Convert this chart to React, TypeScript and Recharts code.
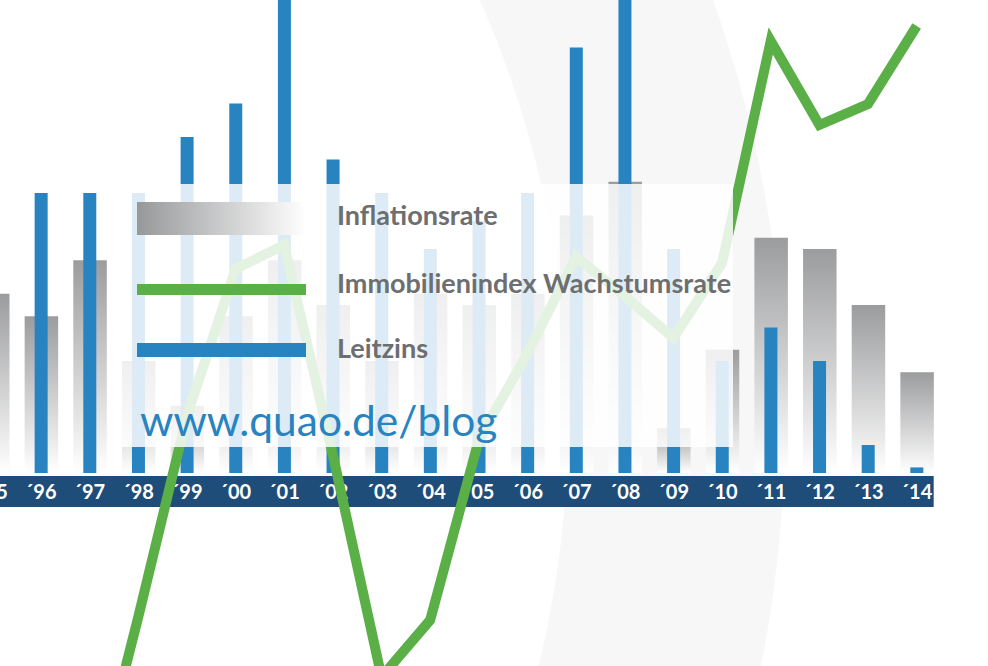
import React from 'react';
import { ComposedChart, Bar, Line, XAxis, YAxis } from 'recharts';

// ---- data ----
const years = ['´95', '´96', '´97', '´98', '´99', '´00', '´01', '´02', '´03', '´04', '´05', '´06', '´07', '´08', '´09', '´10', '´11', '´12', '´13', '´14'];
const inflationsrate = [1.6, 1.4, 1.9, 1.0, 0.6, 1.4, 1.9, 1.5, 1.0, 1.6, 1.5, 1.6, 2.3, 2.6, 0.4, 1.1, 2.1, 2.0, 1.5, 0.9];
const leitzins = [3.0, 2.5, 2.5, 2.5, 3.0, 3.3, 4.5, 2.8, 2.5, 2.0, 2.25, 2.5, 3.8, 4.5, 2.0, 1.0, 1.3, 1.0, 0.25, 0.05];
const immoWachstum = [-4.0, -4.6, -5.6, -2.4, 0.95, 3.4, 3.8, 0.3, -3.4, -2.45, 0.55, 2.0, 3.6, 2.95, 2.25, 3.5, 7.2, 5.8, 6.15, 7.45];

const legendLabels = ['Inflationsrate', 'Immobilienindex Wachstumsrate', 'Leitzins'];
const urlText = 'www.quao.de/blog';

const barData = years.map((y, i) => ({ year: y, inflation: inflationsrate[i], leitzins: leitzins[i] }));
const lineData = years.map((y, i) => ({ year: y, immo: immoWachstum[i] }));

// ---- layout ----
const CHART_LEFT = -31.8;
const CHART_W = 973;
const BAND_W = CHART_W / years.length;
const BAR_PLOT_H = 473;
const BAR_CHART_H = 666;
const BAR_UNIT_PX = 112;
const LINE_CHART_H = 850;
const LINE_UNIT_PX = 60;
const lineHi = BAR_PLOT_H / LINE_UNIT_PX;
const lineLo = lineHi - LINE_CHART_H / LINE_UNIT_PX;

const BLUE = '#2883c1';
const GREEN = '#5baf47';
const NAVY = '#1f4d79';
const TEXT_GRAY = '#6d6e70';

const BandTick = (props: any) => {
  const { x, y, payload, index } = props;
  const half = BAND_W / 2;
  const isLast = index === years.length - 1;
  const left = x - half - 0.5;
  const right = isLast ? x + 17 : x + half + 0.5;
  return (
    <g>
      <rect x={left} y={y + 3} width={right - left} height={31} fill={NAVY} />
      <text
        x={x}
        y={y + 26}
        textAnchor="middle"
        fill="#ffffff"
        fontFamily="Lato, 'Open Sans', sans-serif"
        fontWeight={700}
        fontSize={20}
      >
        {payload.value}
      </text>
    </g>
  );
};

export default function App() {
  return (
    <div
      style={{
        position: 'absolute',
        left: 0,
        top: 0,
        width: 988,
        height: 666,
        overflow: 'hidden',
        background: '#ffffff',
      }}
    >
      {/* decorative background arc */}
      <div
        style={{
          position: 'absolute',
          left: -476 - 1261,
          top: 420 - 1261,
          width: 2522,
          height: 2522,
          boxSizing: 'border-box',
          borderRadius: '50%',
          border: '217px solid #f7f7f7',
        }}
      />

      {/* bars + axis band */}
      <div style={{ position: 'absolute', left: CHART_LEFT, top: 0 }}>
        <ComposedChart
          width={CHART_W}
          height={BAR_CHART_H}
          data={barData}
          margin={{ top: 0, right: 0, bottom: 0, left: 0 }}
        >
          <defs>
            <linearGradient id="grayBarGrad" x1="0" y1="0" x2="0" y2="1">
              <stop offset="0%" stopColor="#9b9c9e" />
              <stop offset="100%" stopColor="#ffffff" />
            </linearGradient>
          </defs>
          <XAxis
            xAxisId="a"
            dataKey="year"
            scale="band"
            height={BAR_CHART_H - BAR_PLOT_H}
            interval={0}
            axisLine={false}
            tickLine={false}
            tickSize={0}
            tickMargin={0}
            tick={<BandTick />}
          />
          <XAxis xAxisId="b" dataKey="year" scale="band" hide />
          <YAxis yAxisId="bar" hide domain={[0, BAR_PLOT_H / BAR_UNIT_PX]} allowDataOverflow />
          <Bar
            xAxisId="a"
            yAxisId="bar"
            dataKey="inflation"
            name="Inflationsrate"
            fill="url(#grayBarGrad)"
            barSize={33.5}
            isAnimationActive={false}
          />
          <Bar
            xAxisId="b"
            yAxisId="bar"
            dataKey="leitzins"
            name="Leitzins"
            fill={BLUE}
            barSize={13}
            isAnimationActive={false}
          />
        </ComposedChart>
      </div>

      {/* line */}
      <div style={{ position: 'absolute', left: CHART_LEFT, top: 0 }}>
        <ComposedChart
          width={CHART_W}
          height={LINE_CHART_H}
          data={lineData}
          margin={{ top: 0, right: 0, bottom: 0, left: 0 }}
        >
          <XAxis dataKey="year" scale="band" hide />
          <YAxis hide domain={[lineLo, lineHi]} allowDataOverflow />
          <Line
            type="linear"
            dataKey="immo"
            name="Immobilienindex Wachstumsrate"
            stroke={GREEN}
            strokeWidth={10}
            strokeLinejoin="miter"
            dot={false}
            activeDot={false}
            isAnimationActive={false}
          />
        </ComposedChart>
      </div>

      {/* legend overlay */}
      <svg
        width={988}
        height={666}
        style={{ position: 'absolute', left: 0, top: 0 }}
      >
        <defs>
          <linearGradient id="legendGrayGrad" x1="0" y1="0" x2="1" y2="0">
            <stop offset="0%" stopColor="#97989a" />
            <stop offset="100%" stopColor="#ffffff" />
          </linearGradient>
        </defs>
        <rect x={118} y={184} width={615} height={263} fill="#ffffff" fillOpacity={0.84} />
        <rect x={137} y={202} width={169} height={33} fill="url(#legendGrayGrad)" />
        <rect x={137} y={284} width={169} height={11} fill={GREEN} />
        <rect x={137} y={343} width={169} height={14} fill={BLUE} />
        <g fontFamily="Lato, 'Open Sans', sans-serif" fontWeight={700} fontSize={27} fill={TEXT_GRAY}>
          <text x={337} y={225}>{legendLabels[0]}</text>
          <text x={337} y={293}>{legendLabels[1]}</text>
          <text x={337} y={358}>{legendLabels[2]}</text>
        </g>
        <text
          x={140}
          y={436}
          fontFamily="Lato, 'Open Sans', sans-serif"
          fontWeight={400}
          fontSize={42.5}
          fill={BLUE}
        >
          {urlText}
        </text>
      </svg>
    </div>
  );
}
